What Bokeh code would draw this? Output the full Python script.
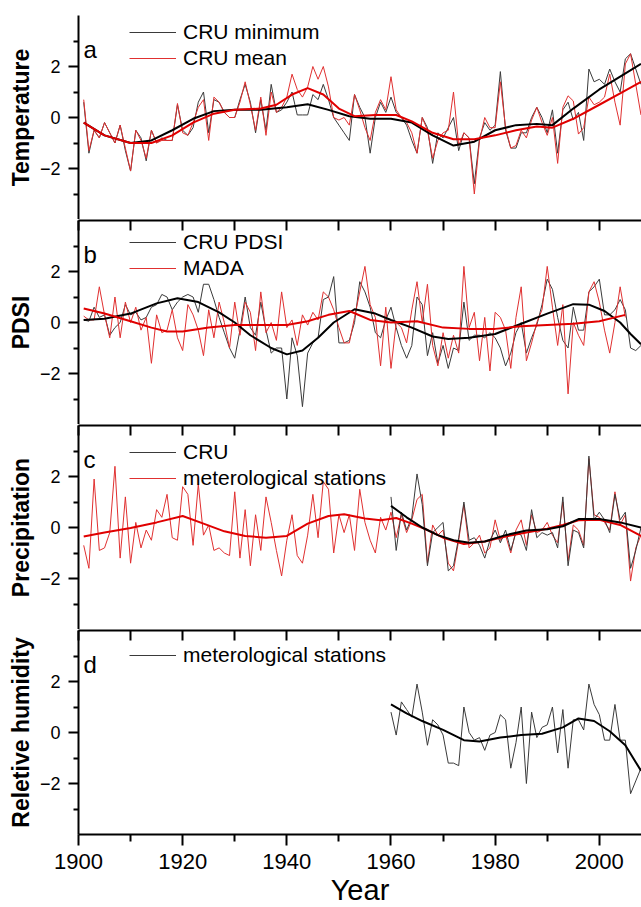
from bokeh.plotting import figure
from bokeh.layouts import column
from bokeh.models import Range1d, LinearAxis, FixedTicker, Legend, LegendItem, Label
from bokeh.embed import file_html
from bokeh.resources import INLINE

# ---------------- data ----------------
YEARS_FULL = list(range(1901, 2009))      # 1901-2008
YEARS_MADA = list(range(1901, 2006))      # 1901-2005
YEARS_LATE = list(range(1960, 2009))      # 1960-2008

temp_cru_min = [
    0.6, -1.4, -0.5, -0.8, -0.2, -0.6, -1.0, -0.3, -1.3, -2.1,
    -0.5, -0.8, -1.7, -0.5, -1.0, -0.8, -0.9, -0.9, 0.5, -0.5,
    -0.7, -0.4, 0.6, 1.0, -0.6, 0.7, 0.6, 0.2, 0.0, 0.0,
    0.7, 1.3, 0.6, -0.6, 0.7, -0.5, 1.3, 0.2, 0.3, 0.6,
    1.0, 0.1, 0.1, 0.1, 0.9, 0.7, 1.3, 0.7, 0.0, -0.3,
    -0.6, -0.9, 0.9, 0.4, 0.0, -1.4, 0.0, 0.6, 0.2, 0.8,
    0.2, 0.0, -0.3, -0.9, -1.4, 0.0, -0.4, -1.8, -0.6, -0.8,
    -0.4, 0.0, -1.3, -0.6, -0.8, -2.6, -0.8, -0.2, -0.5, -0.3,
    1.8, -0.5, -1.2, -1.2, -0.6, -0.6, 0.0, 0.4, 0.0, -0.6,
    0.3, -1.4, 0.3, 0.6, -0.1, 0.2, -0.9, 1.9, 1.4, 1.5,
    1.3, 1.9, 1.4, 1.0, 2.3, 2.5, 1.9, 1.3]
temp_cru_mean = [
    0.7, -1.3, -0.5, -0.8, -0.2, -0.6, -1.0, -0.3, -1.2, -2.1,
    -0.5, -0.9, -1.6, -0.5, -1.0, -0.9, -0.9, -0.9, 0.55, -0.6,
    -0.7, -0.2, 0.4, 0.7, -0.9, 0.8, 0.6, 0.2, 0.0, 0.0,
    0.6, 1.4, 0.5, -0.5, 0.8, -0.7, 1.0, 0.2, 0.4, 0.8,
    1.7, 1.1, 0.8, 1.2, 2.0, 1.5, 2.0, 1.2, 0.0, -0.1,
    0.0, -0.3, 0.9, 0.3, -0.4, -0.9, 0.2, 0.7, 0.3, 1.6,
    0.3, 0.0, -0.2, -0.6, -1.4, 0.0, -0.5, -1.6, -0.9, -0.6,
    -0.5, 1.0, -1.1, -0.6, -0.8, -3.0, -0.9, 0.0, -0.4, -0.4,
    1.4, -0.4, -1.2, -1.1, -0.5, -0.8, -0.1, 0.4, -0.2, -0.7,
    0.0, -1.8, 0.4, 0.85, 0.65, -0.65, -0.4, 0.8, 0.5, 0.6,
    0.8, 1.7, 0.6, -0.3, 2.1, 2.5, 1.3, 0.1]
temp_min_smooth_years = [1901, 1905, 1910, 1914, 1918, 1922, 1926, 1930, 1935, 1940, 1944, 1948,
                         1952, 1956, 1960, 1964, 1968, 1972, 1976, 1980, 1984, 1988, 1991, 1995,
                         2000, 2004, 2008]
temp_min_smooth = [-0.2, -0.7, -1.0, -0.9, -0.5, -0.05, 0.25, 0.3, 0.3, 0.4, 0.52, 0.3,
                   0.05, -0.05, -0.05, -0.2, -0.7, -1.1, -0.95, -0.5, -0.3, -0.25, -0.3, 0.35,
                   1.1, 1.6, 2.1]
temp_mean_smooth_years = [1901, 1905, 1910, 1914, 1918, 1922, 1926, 1930, 1935, 1938, 1941, 1944,
                          1947, 1950, 1953, 1957, 1961, 1964, 1968, 1972, 1976, 1980, 1984, 1988,
                          1991, 1995, 2000, 2004, 2008]
temp_mean_smooth = [-0.2, -0.7, -1.0, -1.0, -0.7, -0.2, 0.15, 0.3, 0.35, 0.5, 0.9, 1.15,
                    0.9, 0.35, 0.05, 0.1, 0.1, -0.15, -0.6, -0.85, -0.85, -0.7, -0.5, -0.35,
                    -0.4, -0.05, 0.5, 0.95, 1.4]

pdsi_cru = [
    0.1, 0.05, 0.6, 0.2, 0.3, -0.5, -0.2, 0.0, 0.7, 0.3,
    0.4, 0.1, 0.2, 0.6, 0.7, 1.1, 1.0, 0.5, 0.8, 1.0,
    1.1, 1.0, 0.4, 1.5, 1.5, 0.9, 0.2, -0.4, -1.0, -1.4,
    -0.3, 1.0, -0.2, -0.5, 0.8, -0.3, -1.2, -1.0, -1.0, -3.0,
    -0.6, -1.3, -3.3, -1.2, -0.8, -0.6, 0.9, 1.0, 1.8, -0.8,
    -0.8, -0.7, 0.0, 1.6, 1.2, 0.6, -0.4, -0.6, 0.1, 0.6,
    -0.2, -0.9, -1.4, -0.9, 1.0, 0.7, -1.3, -0.4, -1.6, -0.9,
    -1.8, -1.0, -1.1, 0.8, -0.7, -0.5, -0.5, -0.6, -0.4, -0.6,
    -1.0, -1.7, -1.2, -0.4, 0.0, -1.2, -0.6, -0.1, 0.7, 1.7,
    1.3, 0.2, -0.7, -1.0, 0.6, -0.3, -0.3, 1.2, 1.4, 1.7,
    0.3, 0.3, 0.5, 0.9, 0.5, -1.0, -1.1, -0.9]
pdsi_mada = [
    0.25, 0.1, 0.1, 1.4, 0.3, -0.6, 1.0, -0.6, 0.8, 0.0,
    0.6, -0.3, 0.2, -1.6, 0.3, -0.4, -0.3, 0.5, -0.6, -1.1,
    0.7, 0.3, -0.3, -1.3, 0.5, -0.6, 0.8, 0.0, -1.0, 0.8,
    -0.5, 0.8, 0.4, -1.1, 1.2, -0.4, 0.0, -0.7, 1.2, -0.2,
    0.1, -0.9, 0.3, -0.1, 0.4, 0.1, 1.2, 1.0, 0.5, -0.2,
    -0.8, -0.8, 0.2, 1.2, 2.2, 0.7, 0.2, -1.7, 0.6, -1.8,
    0.0, -0.2, -0.8, 0.5, 1.6, 0.0, 1.5, -0.9, -1.7, -0.4,
    -1.4, -0.5, -1.2, 2.2, -0.2, 0.4, -1.5, 0.2, -1.9, 0.4,
    0.2, -0.3, -1.8, 0.2, 1.4, -1.5, -0.8, 0.0, 0.5, 2.2,
    0.6, -0.9, 0.7, -2.8, 0.0, -0.5, -0.9, 1.2, 1.6, 0.8,
    -0.3, -1.2, 0.0, 1.4, 0.2]
pdsi_cru_smooth_years = [1901, 1905, 1910, 1915, 1919, 1923, 1927, 1930, 1933, 1937, 1940, 1943,
                         1946, 1949, 1953, 1957, 1960, 1964, 1968, 1971, 1975, 1980, 1985, 1990,
                         1995, 1998, 2001, 2004, 2006, 2008]
pdsi_cru_smooth = [0.1, 0.15, 0.35, 0.75, 0.95, 0.8, 0.4, 0.0, -0.5, -1.0, -1.25, -1.1,
                   -0.6, 0.0, 0.52, 0.35, 0.1, -0.2, -0.55, -0.65, -0.6, -0.45, -0.05, 0.35,
                   0.72, 0.7, 0.45, 0.0, -0.45, -0.85]
pdsi_mada_smooth_years = [1901, 1905, 1910, 1914, 1917, 1920, 1925, 1930, 1935, 1940, 1944, 1948,
                          1952, 1956, 1960, 1965, 1970, 1975, 1980, 1985, 1990, 1995, 2000, 2005]
pdsi_mada_smooth = [0.55, 0.35, 0.05, -0.2, -0.35, -0.35, -0.2, -0.1, -0.1, -0.1, 0.05, 0.3,
                    0.45, 0.1, 0.0, 0.05, -0.2, -0.25, -0.25, -0.15, -0.1, -0.05, 0.05, 0.3]

prec_station = [
    -0.7, -1.6, 1.9, -0.9, -0.8, -0.2, 2.4, -1.2, 1.2, -1.4,
    0.2, -0.8, -0.1, -0.5, 0.7, 0.4, 1.3, -0.4, -0.5, 1.6,
    1.3, -0.7, 1.7, -0.3, 0.1, -0.9, -0.8, -1.0, -1.1, 1.4,
    -1.2, 0.7, -1.5, 0.5, -0.9, 1.2, 0.2, -0.9, -1.9, -0.5,
    0.5, -1.1, -1.4, -0.3, 1.3, -0.4, 1.8, 1.5, -1.0, 0.5,
    -0.2, 0.5, -0.9, 1.5, 0.2, -0.5, -1.0, 0.4, -0.1, 0.6,
    -0.4, 0.5, -0.2, 0.3, 1.1, 1.3, -1.4, 0.1, -0.3, -0.1,
    -1.4, -1.7, -0.5, 0.9, -0.8, -0.6, -0.3, -1.0, -0.8, 0.3,
    -0.5, -0.3, -1.0, -0.1, 0.3, -0.7, 0.5, -0.2, -0.1, 0.2,
    -0.3, -0.6, 1.0, -1.3, 0.1, -0.1, -0.7, 2.7, 0.5, 0.4,
    0.2, -0.1, 1.4, 0.1, 0.5, -2.1, -0.8, -0.3]
prec_cru = [
    1.2, -0.9, 0.6, -0.1, 0.4, 2.1, 0.9, -1.5, -0.2, 0.0,
    0.2, -1.7, -1.5, -0.4, 1.0, -0.5, -0.4, -0.7, -1.2, -0.5,
    -0.1, -0.6, -0.1, -0.9, -0.2, -0.3, -0.9, 0.7, -0.4, -0.2,
    -0.3, -0.2, -0.8, 1.2, -1.5, -0.1, -0.2, -0.8, 2.8, 0.3,
    0.6, 0.3, -0.2, 1.3, 0.3, 0.6, -1.6, -0.9, 0.0]
prec_station_smooth_years = [1901, 1905, 1910, 1915, 1920, 1924, 1928, 1932, 1936, 1940, 1944, 1948,
                             1951, 1955, 1958, 1961, 1964, 1967, 1970, 1974, 1978, 1982, 1986, 1990,
                             1993, 1996, 2000, 2004, 2008]
prec_station_smooth = [-0.35, -0.2, -0.02, 0.2, 0.45, 0.15, -0.15, -0.33, -0.4, -0.33, 0.15, 0.45,
                       0.52, 0.35, 0.28, 0.37, 0.15, -0.1, -0.4, -0.65, -0.55, -0.35, -0.2, -0.05,
                       0.1, 0.28, 0.3, 0.1, -0.33]
prec_cru_smooth_years = [1960, 1963, 1966, 1969, 1972, 1975, 1978, 1982, 1986, 1990, 1993, 1996,
                         2000, 2004, 2008]
prec_cru_smooth = [0.85, 0.4, 0.0, -0.3, -0.5, -0.6, -0.55, -0.3, -0.12, -0.07, 0.05, 0.33,
                   0.33, 0.2, 0.0]

rh_station = [
    0.8, -0.1, 1.2, 0.9, 0.6, 1.9, 0.8, -0.5, 0.5, 0.3,
    -0.1, -1.2, -1.2, -1.3, 1.0, 0.0, -0.3, -0.2, -0.7, -0.1,
    0.0, 0.7, 0.5, -1.4, -0.4, 1.0, -2.0, 0.8, -0.2, 0.2,
    0.3, 1.0, -0.8, 0.9, -1.4, 0.5, 0.5, 0.1, 1.9, 1.1,
    0.7, -0.3, -0.3, 1.1, -0.3, -0.3, -2.4, -1.9, -1.4]
rh_smooth_years = [1960, 1963, 1966, 1970, 1974, 1977, 1981, 1985, 1989, 1993, 1996, 1999,
                   2002, 2005, 2008]
rh_smooth = [1.1, 0.75, 0.45, 0.1, -0.3, -0.35, -0.2, -0.1, -0.05, 0.2, 0.55, 0.45,
             0.05, -0.5, -1.5]

X_MAJOR_TICKS = [1900, 1920, 1940, 1960, 1980, 2000]
X_MINOR_TICKS = [1910, 1930, 1950, 1970, 1990]
X_ALL_TICKS = [1900, 1910, 1920, 1930, 1940, 1950, 1960, 1970, 1980, 1990, 2000]
Y_MAJOR_TICKS = [-2, 0, 2]
Y_MINOR_TICKS = [-3, -1, 1, 3]

# ---------------- styling ----------------
FONT = "Liberation Sans"
BLACK_THIN = "#3a3a3a"
RED_THIN = "#e03030"
BLACK_SMOOTH = "#000000"
RED_SMOOTH = "#e00000"
TXT = "#000000"

x_range = Range1d(1900, 2008.1)


def make_panel(ylabel, letter, top_border, top_axis, bottom_axis):
    p = figure(frame_width=563, frame_height=204, x_range=x_range, y_range=Range1d(-4, 4),
               output_backend="svg", toolbar_location=None,
               x_axis_location=None, y_axis_location=None,
               min_border_left=78, min_border_right=0, min_border_top=top_border,
               min_border_bottom=0)
    p.outline_line_color = None
    for g in p.grid:
        g.visible = False
    p.background_fill_color = "white"
    p.border_fill_color = "white"

    ya = LinearAxis(ticker=FixedTicker(ticks=Y_MAJOR_TICKS, minor_ticks=Y_MINOR_TICKS))
    ya.axis_label = ylabel
    ya.axis_label_text_font = FONT
    ya.axis_label_text_font_style = "bold"
    ya.axis_label_text_font_size = "23px"
    ya.axis_label_text_color = TXT
    ya.axis_label_standoff = 3
    ya.major_label_text_font = FONT
    ya.major_label_text_font_size = "18px"
    ya.major_label_text_color = TXT
    ya.major_label_standoff = 8
    ya.major_tick_out = 10
    ya.major_tick_in = 0
    ya.minor_tick_out = 5
    ya.minor_tick_in = 0
    ya.axis_line_width = 2
    ya.axis_line_color = TXT
    ya.major_tick_line_width = 2
    ya.major_tick_line_color = TXT
    ya.minor_tick_line_width = 2
    ya.minor_tick_line_color = TXT
    ya.major_label_orientation = "horizontal"
    p.add_layout(ya, "left")

    if top_axis:
        # separator line with inward decade ticks (minor ticks only: no labels)
        ta = LinearAxis(ticker=FixedTicker(ticks=[], minor_ticks=X_ALL_TICKS))
        ta.major_tick_in = 0
        ta.major_tick_out = 0
        ta.minor_tick_in = 10
        ta.minor_tick_out = 0
        ta.major_label_standoff = 0
        ta.axis_line_width = 2
        ta.axis_line_color = TXT
        ta.minor_tick_line_width = 2
        ta.minor_tick_line_color = TXT
        p.add_layout(ta, "above")

    if bottom_axis:
        ba = LinearAxis(ticker=FixedTicker(ticks=X_MAJOR_TICKS, minor_ticks=X_MINOR_TICKS))
        ba.axis_label = "Year"
        ba.axis_label_text_font = FONT
        ba.axis_label_text_font_style = "normal"
        ba.axis_label_text_font_size = "29px"
        ba.axis_label_text_color = TXT
        ba.axis_label_standoff = 2
        ba.major_label_text_font = FONT
        ba.major_label_text_font_size = "22px"
        ba.major_label_text_color = TXT
        ba.major_label_standoff = 8
        ba.major_tick_out = 11
        ba.major_tick_in = 0
        ba.minor_tick_out = 7
        ba.minor_tick_in = 0
        ba.axis_line_width = 2
        ba.axis_line_color = TXT
        ba.major_tick_line_width = 2
        ba.major_tick_line_color = TXT
        ba.minor_tick_line_width = 2
        ba.minor_tick_line_color = TXT
        p.add_layout(ba, "below")

    p.add_layout(Label(x=5, y=170, x_units="screen", y_units="screen", text=letter,
                       text_font=FONT, text_font_size="24px", text_color=TXT,
                       text_baseline="alphabetic"))
    return p


def add_legend(p, items, y):
    leg = Legend(items=items, location=(51, y), orientation="vertical",
                 glyph_width=47, glyph_height=26, label_height=26, label_standoff=7,
                 spacing=0, padding=0, margin=0,
                 label_text_font=FONT, label_text_font_size="21px", label_text_color=TXT,
                 border_line_color=None, background_fill_alpha=0)
    p.add_layout(leg, "center")


# ---- panel a ----
pa = make_panel("Temperature", "a", 15, False, False)
ra1 = pa.line(YEARS_FULL, temp_cru_min, line_color=BLACK_THIN, line_width=1)
ra2 = pa.line(YEARS_FULL, temp_cru_mean, line_color=RED_THIN, line_width=1)
pa.line(temp_min_smooth_years, temp_min_smooth, line_color=BLACK_SMOOTH, line_width=2)
pa.line(temp_mean_smooth_years, temp_mean_smooth, line_color=RED_SMOOTH, line_width=2)
add_legend(pa, [LegendItem(label="CRU minimum", renderers=[ra1]),
                LegendItem(label="CRU mean", renderers=[ra2])], 148)

# ---- panel b ----
pb = make_panel("PDSI", "b", 1, True, False)
rb1 = pb.line(YEARS_FULL, pdsi_cru, line_color=BLACK_THIN, line_width=1)
rb2 = pb.line(YEARS_MADA, pdsi_mada, line_color=RED_THIN, line_width=1)
pb.line(pdsi_cru_smooth_years, pdsi_cru_smooth, line_color=BLACK_SMOOTH, line_width=2)
pb.line(pdsi_mada_smooth_years, pdsi_mada_smooth, line_color=RED_SMOOTH, line_width=2)
add_legend(pb, [LegendItem(label="CRU PDSI", renderers=[rb1]),
                LegendItem(label="MADA", renderers=[rb2])], 143)

# ---- panel c ----
pc = make_panel("Precipitation", "c", 1, True, False)
rc2 = pc.line(YEARS_FULL, prec_station, line_color=RED_THIN, line_width=1)
rc1 = pc.line(YEARS_LATE, prec_cru, line_color=BLACK_THIN, line_width=1)
pc.line(prec_station_smooth_years, prec_station_smooth, line_color=RED_SMOOTH, line_width=2)
pc.line(prec_cru_smooth_years, prec_cru_smooth, line_color=BLACK_SMOOTH, line_width=2)
add_legend(pc, [LegendItem(label="CRU", renderers=[rc1]),
                LegendItem(label="meterological stations", renderers=[rc2])], 138)

# ---- panel d ----
pd_ = make_panel("Reletive humidity", "d", 1, True, True)
rd1 = pd_.line(YEARS_LATE, rh_station, line_color=BLACK_THIN, line_width=1)
pd_.line(rh_smooth_years, rh_smooth, line_color=BLACK_SMOOTH, line_width=2)
add_legend(pd_, [LegendItem(label="meterological stations", renderers=[rd1])], 166)

layout = column(pa, pb, pc, pd_, spacing=0)
open("out.html", "w").write(file_html(layout, INLINE))
